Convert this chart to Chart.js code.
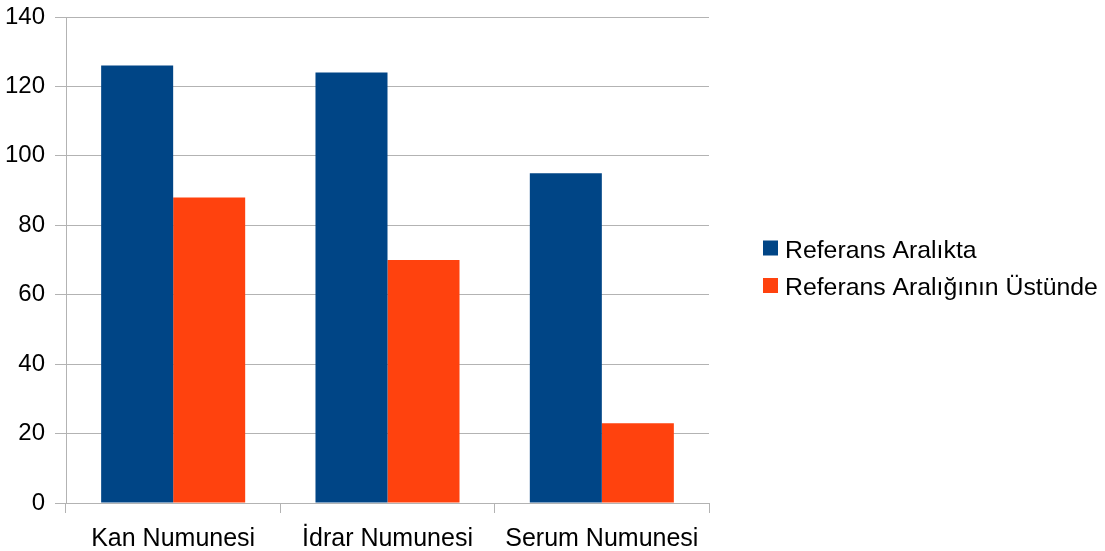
<!DOCTYPE html>
<html>
<head>
<meta charset="utf-8">
<script src="https://cdn.jsdelivr.net/npm/chart.js@4/dist/chart.umd.min.js"></script>
<style>
  html, body { margin: 0; padding: 0; background: #ffffff; }
  #wrap { width: 1105px; height: 551px; position: relative; }
</style>
</head>
<body>
<div id="wrap"><canvas id="c" width="1105" height="551"></canvas></div>
<script>
const categories = ["Kan Numunesi", "İdrar Numunesi", "Serum Numunesi"];
const seriesNames = ["Referans Aralıkta", "Referans Aralığının Üstünde"];
const seriesColors = ["#004586", "#ff420e"];
const inRange = [126, 124, 95];
const aboveRange = [88, 70, 23];
const yTicks = [0, 20, 40, 60, 80, 100, 120, 140];

const FONT_Y = { family: "'Liberation Sans', Arial, sans-serif", size: 24, lineHeight: 0.5 };
const FONT_X = { family: "'Liberation Sans', Arial, sans-serif", size: 25 };
const GRID = "#b3b3b3";

// Legend drawn at the right, from the datasets' own labels and colours
const sideLegend = {
  id: "sideLegend",
  afterDraw(chart) {
    const ctx = chart.ctx;
    ctx.save();
    ctx.font = "24.8px 'Liberation Sans', Arial, sans-serif";
    ctx.textBaseline = "alphabetic";
    ctx.textAlign = "left";
    const baselines = [257.5, 295];
    chart.data.datasets.forEach((ds, i) => {
      const by = baselines[i];
      ctx.fillStyle = ds.backgroundColor;
      ctx.fillRect(763, by - 17, 15, 15);
      ctx.fillStyle = "#000000";
      ctx.fillText(ds.label, 785, by);
    });
    ctx.restore();
  }
};

new Chart(document.getElementById("c"), {
  type: "bar",
  data: {
    labels: categories,
    datasets: [
      { label: seriesNames[0], data: inRange, backgroundColor: seriesColors[0], borderWidth: 0,
        categoryPercentage: 0.672, barPercentage: 1.0 },
      { label: seriesNames[1], data: aboveRange, backgroundColor: seriesColors[1], borderWidth: 0,
        categoryPercentage: 0.672, barPercentage: 1.0 }
    ]
  },
  plugins: [sideLegend],
  options: {
    responsive: false,
    animation: false,
    devicePixelRatio: 1,
    layout: { padding: { top: 17, right: 396, left: 0, bottom: 0 } },
    plugins: {
      legend: { display: false },
      tooltip: { enabled: false }
    },
    scales: {
      x: {
        offset: true,
        afterFit: (scale) => { scale.height = 48; },
        grid: {
          offset: true,
          drawOnChartArea: false,
          drawTicks: true,
          tickLength: 10,
          color: GRID,
          lineWidth: 1
        },
        border: { display: true, color: GRID, width: 1 },
        ticks: { color: "#000000", font: FONT_X, padding: 11, maxRotation: 0 }
      },
      y: {
        min: 0,
        max: 140,
        afterBuildTicks: (scale) => { scale.ticks = yTicks.map(v => ({ value: v })); },
        afterFit: (scale) => { scale.width = 66; },
        grid: { color: GRID, lineWidth: 1, tickLength: 11, drawTicks: true },
        border: { display: true, color: GRID, width: 1 },
        ticks: { color: "#000000", font: FONT_Y, padding: 10 }
      }
    }
  }
});
</script>
</body>
</html>
